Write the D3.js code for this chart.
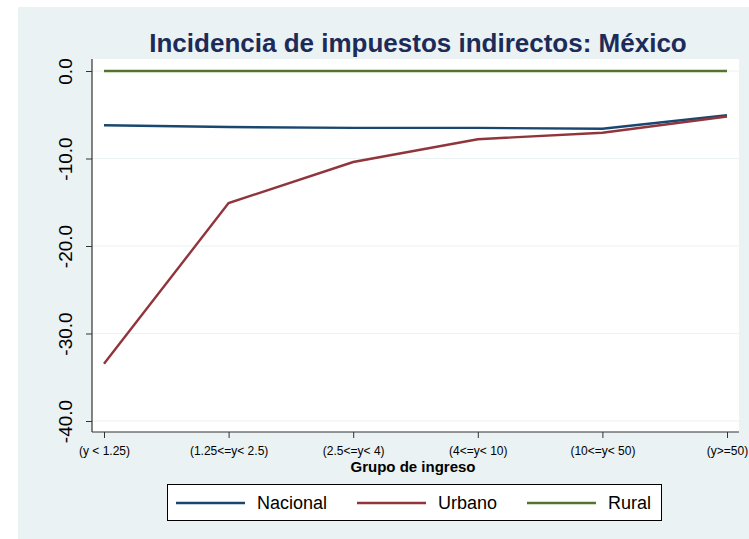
<!DOCTYPE html>
<html><head><meta charset="utf-8">
<script src="https://cdn.jsdelivr.net/npm/d3@7"></script>
<style>body{margin:0;background:#fff;}svg{display:block;font-family:Arial,"Liberation Sans",sans-serif;}</style>
</head><body>
<svg id="c" width="749" height="539"></svg>
<script>
const categories = ["(y < 1.25)", "(1.25<=y< 2.5)", "(2.5<=y< 4)", "(4<=y< 10)", "(10<=y< 50)", "(y>=50)"];
const nacional = [-6.2, -6.4, -6.5, -6.5, -6.6, -5.05];
const urbano = [-33.45, -15.1, -10.4, -7.8, -7.05, -5.2];
const rural = [0, 0, 0, 0, 0, 0];
const yTicks = [0, -10, -20, -30, -40];
const seriesNames = ["Nacional", "Urbano", "Rural"];
const seriesColors = ["#1A476F", "#90353B", "#55752F"];

const svg = d3.select("#c");
svg.append("rect").attr("x",18).attr("y",7).attr("width",731).attr("height",532).attr("fill","#EAF2F3");

const L=92, R=739, T=59, B=432;
svg.append("rect").attr("x",L).attr("y",T).attr("width",R-L).attr("height",B-T).attr("fill","#fff");

const x = d3.scalePoint().domain(categories).range([104,727]);
const y = d3.scaleLinear().domain([-40,0]).range([421,71]);

// gridlines
svg.append("g").selectAll("line").data(yTicks).join("line")
  .attr("x1",L).attr("x2",R).attr("y1",d=>y(d)).attr("y2",d=>y(d))
  .attr("stroke","#EAF2F3").attr("stroke-width",1.2);

// axes
const fmt = d => d.toFixed(1);
const yAxis = d3.axisLeft(y).tickValues(yTicks).tickFormat(fmt).tickSize(6).tickPadding(0);
const gy = svg.append("g").attr("transform",`translate(${L},0)`).call(yAxis);
gy.select(".domain").remove();
gy.selectAll(".tick line").attr("stroke","#333");
gy.selectAll(".tick text")
  .attr("x",0).attr("y",0).attr("dy","0.35em")
  .attr("text-anchor","middle")
  .attr("font-size",19).attr("fill","#000")
  .attr("transform","translate(-27,0) rotate(-90)");
svg.append("line").attr("x1",L).attr("x2",L).attr("y1",T).attr("y2",B).attr("stroke","#333").attr("stroke-width",1.2);

const xAxis = d3.axisBottom(x).tickSize(6).tickPadding(8);
const gx = svg.append("g").attr("transform",`translate(0,${B})`).call(xAxis);
gx.select(".domain").remove();
gx.selectAll(".tick line").attr("stroke","#333");
gx.selectAll(".tick text").attr("font-size",12).attr("fill","#000");
svg.append("line").attr("x1",L).attr("x2",R).attr("y1",B).attr("y2",B).attr("stroke","#333").attr("stroke-width",1.2);

// lines
const line = d3.line().x((d,i)=>x(categories[i])).y(d=>y(d));
[nacional, urbano, rural].forEach((s,i)=>{
  svg.append("path").datum(s).attr("d",line).attr("fill","none")
    .attr("stroke",seriesColors[i]).attr("stroke-width",2.4);
});

// title
svg.append("text").attr("x",418).attr("y",52).attr("text-anchor","middle")
  .attr("font-size",26).attr("font-weight","bold").attr("fill","#1C2B58")
  .text("Incidencia de impuestos indirectos: México");

// x title
svg.append("text").attr("x",413).attr("y",472).attr("text-anchor","middle")
  .attr("font-size",15).attr("font-weight","bold").attr("fill","#000")
  .text("Grupo de ingreso");

// legend
const lg = svg.append("g");
lg.append("rect").attr("x",167.5).attr("y",484.5).attr("width",494).attr("height",36)
  .attr("fill","#fff").attr("stroke","#000").attr("stroke-width",1);
const lx = [176, 357, 527];
seriesNames.forEach((n,i)=>{
  lg.append("line").attr("x1",lx[i]).attr("x2",lx[i]+69).attr("y1",503).attr("y2",503)
    .attr("stroke",seriesColors[i]).attr("stroke-width",2.4);
  lg.append("text").attr("x",lx[i]+81).attr("y",509).attr("font-size",18).attr("fill","#000").text(n);
});
</script>
</body></html>
